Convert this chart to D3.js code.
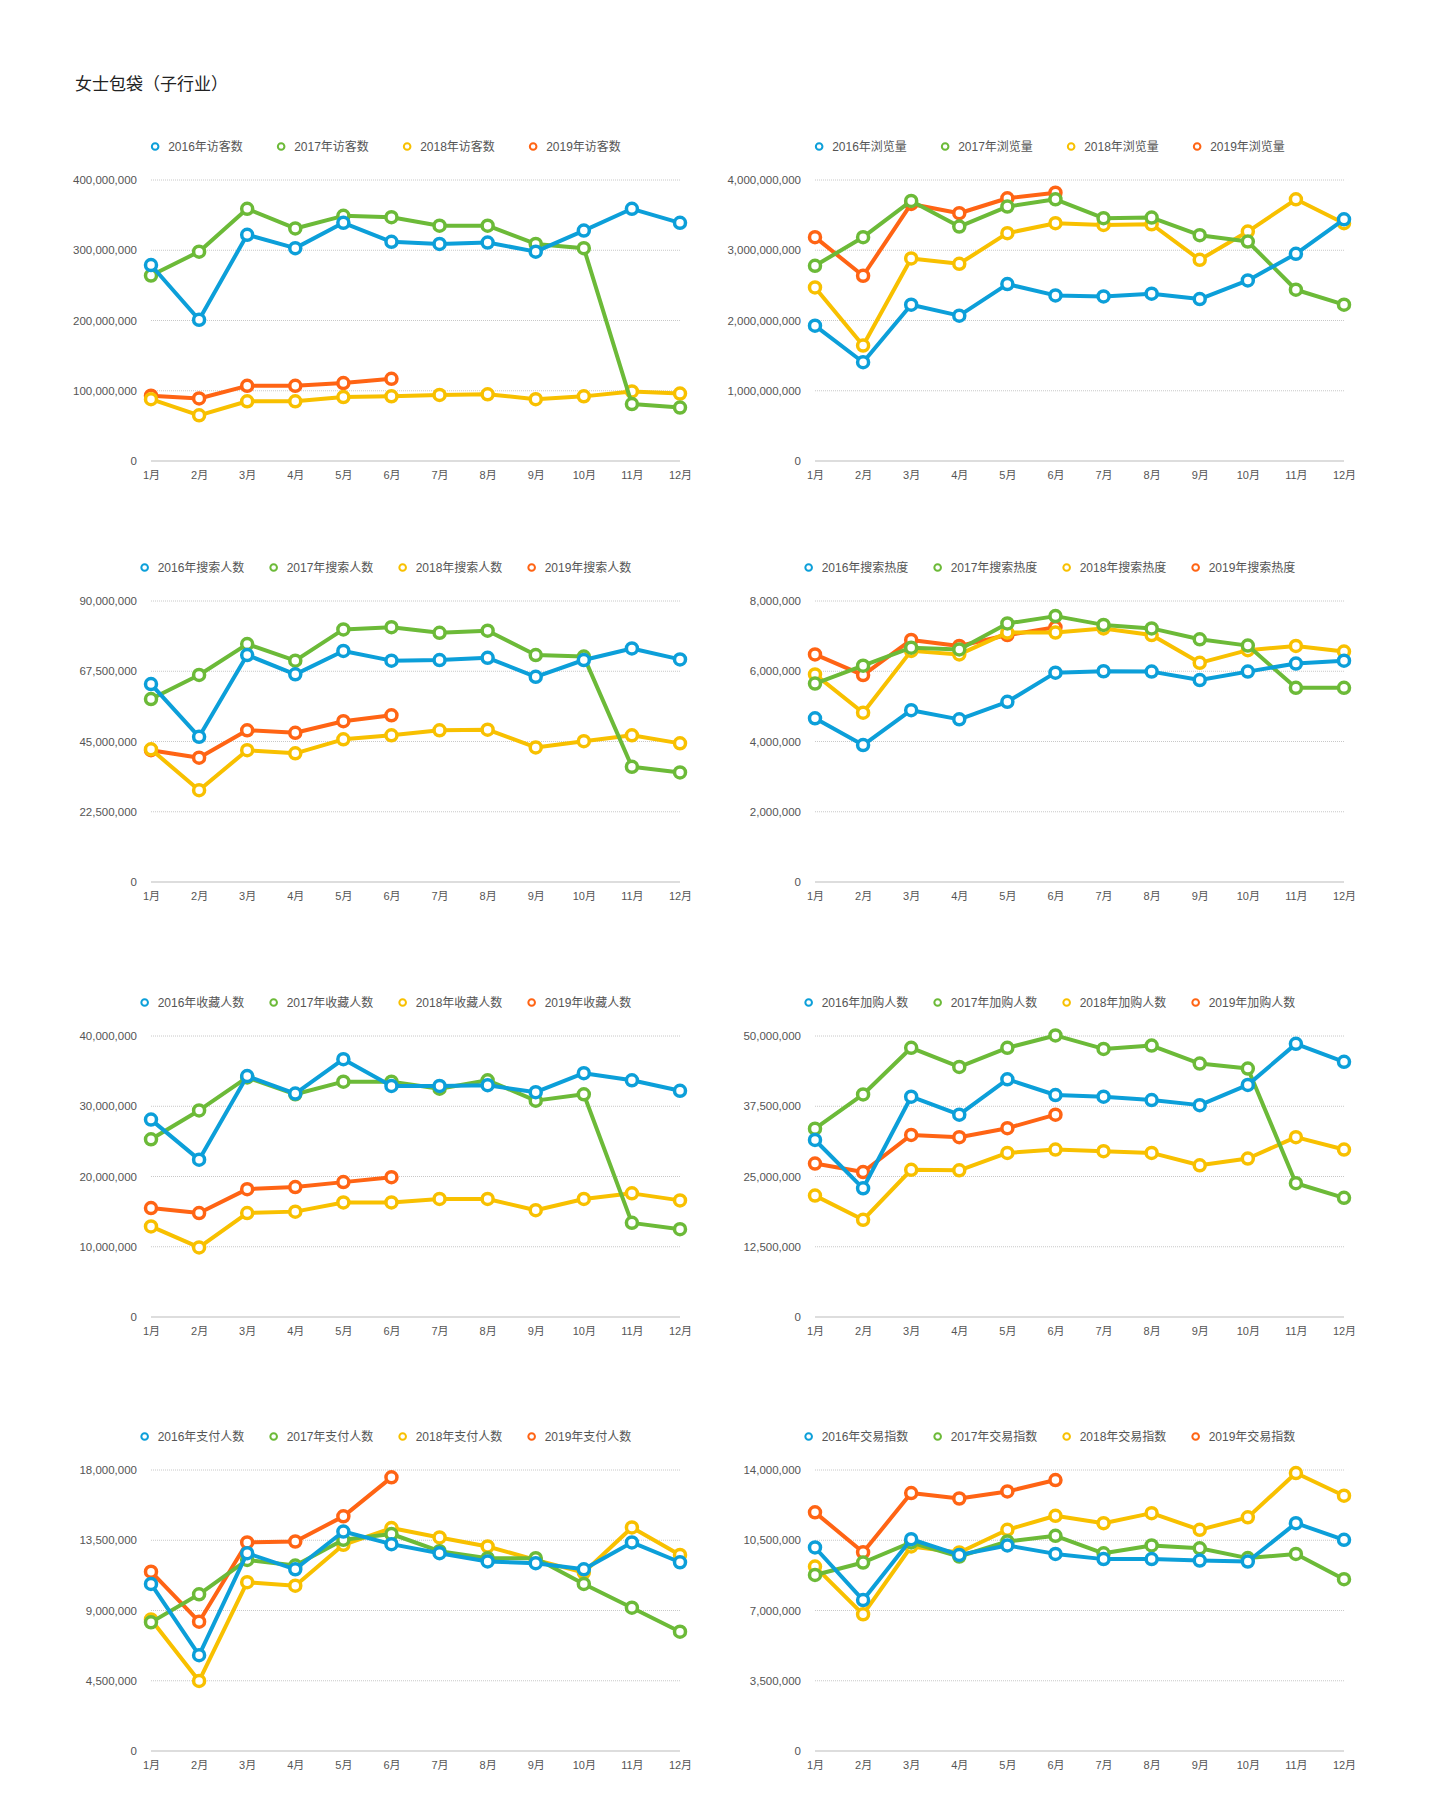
<!DOCTYPE html>
<html>
<head>
<meta charset="utf-8">
<script src="https://cdn.jsdelivr.net/npm/d3@7"></script>
<style>
  body { margin: 0; background: #fff; }
  text { font-family: "Liberation Sans", "Noto Sans CJK SC", sans-serif; }
</style>
</head>
<body>
<script>
var months = ["1月", "2月", "3月", "4月", "5月", "6月", "7月", "8月", "9月", "10月", "11月", "12月"];
var years = ["2016年", "2017年", "2018年", "2019年"];
var metrics = ["访客数", "浏览量", "搜索人数", "搜索热度", "收藏人数", "加购人数", "支付人数", "交易指数"];
var yMax = [400000000, 4000000000, 90000000, 8000000, 40000000, 50000000, 18000000, 14000000];
var colors = ["#0c9fd9", "#6cba38", "#f8c000", "#ff6414"];

// each metric: [2016, 2017, 2018, 2019]
var visitors = [
  [279e6, 201e6, 322e6, 303e6, 339e6, 312e6, 309e6, 311e6, 298e6, 328e6, 359e6, 339e6],
  [264e6, 298e6, 359e6, 331e6, 349e6, 347e6, 335e6, 335e6, 309e6, 303e6, 81e6, 76e6],
  [88e6, 65e6, 85e6, 85e6, 91e6, 92e6, 94e6, 95e6, 88e6, 92e6, 99e6, 96e6],
  [93e6, 89e6, 107e6, 107e6, 111e6, 117e6]
];
var pageViews = [
  [1927e6, 1406e6, 2225e6, 2069e6, 2518e6, 2357e6, 2343e6, 2381e6, 2305e6, 2570e6, 2949e6, 3441e6],
  [2779e6, 3186e6, 3702e6, 3337e6, 3621e6, 3725e6, 3456e6, 3465e6, 3214e6, 3124e6, 2438e6, 2225e6],
  [2471e6, 1643e6, 2883e6, 2807e6, 3243e6, 3385e6, 3361e6, 3370e6, 2864e6, 3266e6, 3725e6, 3385e6],
  [3186e6, 2637e6, 3659e6, 3527e6, 3740e6, 3820e6]
];
var searchers = [
  [63.4e6, 46.5e6, 72.7e6, 66.5e6, 74.0e6, 70.9e6, 71.1e6, 71.8e6, 65.7e6, 71.1e6, 74.8e6, 71.3e6],
  [58.6e6, 66.3e6, 76.2e6, 70.9e6, 80.9e6, 81.6e6, 79.8e6, 80.5e6, 72.7e6, 72.2e6, 36.9e6, 35.1e6],
  [42.5e6, 29.4e6, 42.2e6, 41.2e6, 45.7e6, 47.0e6, 48.6e6, 48.8e6, 43.1e6, 45.1e6, 47.0e6, 44.4e6],
  [42.2e6, 39.8e6, 48.6e6, 47.8e6, 51.5e6, 53.4e6]
];
var searchHeat = [
  [4.66e6, 3.90e6, 4.89e6, 4.63e6, 5.13e6, 5.96e6, 6.00e6, 5.99e6, 5.75e6, 5.99e6, 6.22e6, 6.30e6],
  [5.65e6, 6.16e6, 6.67e6, 6.62e6, 7.36e6, 7.57e6, 7.32e6, 7.22e6, 6.91e6, 6.73e6, 5.53e6, 5.53e6],
  [5.91e6, 4.82e6, 6.58e6, 6.48e6, 7.10e6, 7.10e6, 7.22e6, 7.03e6, 6.24e6, 6.60e6, 6.72e6, 6.56e6],
  [6.48e6, 5.89e6, 6.89e6, 6.72e6, 7.03e6, 7.25e6]
];
var favorites = [
  [28.1e6, 22.4e6, 34.3e6, 31.8e6, 36.7e6, 32.9e6, 32.9e6, 33.0e6, 32.0e6, 34.7e6, 33.7e6, 32.2e6],
  [25.3e6, 29.4e6, 34.1e6, 31.7e6, 33.5e6, 33.5e6, 32.5e6, 33.7e6, 30.8e6, 31.7e6, 13.4e6, 12.5e6],
  [12.9e6, 9.9e6, 14.8e6, 15.0e6, 16.3e6, 16.3e6, 16.8e6, 16.8e6, 15.2e6, 16.8e6, 17.6e6, 16.6e6],
  [15.5e6, 14.8e6, 18.2e6, 18.5e6, 19.2e6, 19.9e6]
];
var addToCart = [
  [31.5e6, 22.9e6, 39.2e6, 36.0e6, 42.3e6, 39.5e6, 39.2e6, 38.6e6, 37.7e6, 41.3e6, 48.6e6, 45.4e6],
  [33.5e6, 39.6e6, 47.9e6, 44.5e6, 47.9e6, 50.1e6, 47.7e6, 48.3e6, 45.1e6, 44.2e6, 23.8e6, 21.2e6],
  [21.6e6, 17.3e6, 26.2e6, 26.1e6, 29.2e6, 29.8e6, 29.5e6, 29.2e6, 27.0e6, 28.2e6, 32.0e6, 29.8e6],
  [27.3e6, 25.8e6, 32.4e6, 32.0e6, 33.6e6, 36.0e6]
];
var payers = [
  [10.70e6, 6.14e6, 12.67e6, 11.64e6, 14.06e6, 13.25e6, 12.67e6, 12.14e6, 12.03e6, 11.64e6, 13.36e6, 12.09e6],
  [8.24e6, 10.04e6, 12.24e6, 11.88e6, 13.53e6, 13.90e6, 12.80e6, 12.35e6, 12.35e6, 10.70e6, 9.18e6, 7.64e6],
  [8.43e6, 4.49e6, 10.81e6, 10.59e6, 13.21e6, 14.28e6, 13.68e6, 13.10e6, 12.24e6, 11.43e6, 14.32e6, 12.56e6],
  [11.49e6, 8.28e6, 13.36e6, 13.42e6, 15.03e6, 17.53e6]
];
var tradeIndex = [
  [10.14e6, 7.52e6, 10.55e6, 9.77e6, 10.24e6, 9.82e6, 9.56e6, 9.56e6, 9.49e6, 9.44e6, 11.35e6, 10.52e6],
  [8.77e6, 9.39e6, 10.39e6, 9.69e6, 10.44e6, 10.72e6, 9.85e6, 10.24e6, 10.10e6, 9.61e6, 9.82e6, 8.56e6],
  [9.19e6, 6.81e6, 10.19e6, 9.89e6, 11.02e6, 11.72e6, 11.35e6, 11.85e6, 11.02e6, 11.64e6, 13.85e6, 12.72e6],
  [11.89e6, 9.90e6, 12.85e6, 12.58e6, 12.93e6, 13.50e6]
];
var allData = [visitors, pageViews, searchers, searchHeat, favorites, addToCart, payers, tradeIndex];

var svg = d3.select("body").append("svg")
            .attr("width", 1440)
            .attr("height", 1815);

svg.append("text")
   .attr("x", 75)
   .attr("y", 90)
   .attr("font-size", 17)
   .attr("fill", "#222")
   .text("女士包袋（子行业）");

var rowTops = [180, 601, 1036, 1470];
var plotW = 529, plotH = 281;
var fmt = d3.format(",");

allData.forEach(function (series, i) {
  var col = i % 2, row = Math.floor(i / 2);
  var left = 151 + col * 664, top = rowTops[row];

  var x = d3.scalePoint().domain(months).range([0, plotW]);
  var y = d3.scaleLinear().domain([0, yMax[i]]).range([plotH, 0]);

  var g = svg.append("g").attr("transform", "translate(" + left + "," + top + ")");

  // grid
  var ticks = d3.range(5).map(function (k) { return yMax[i] * k / 4; });
  g.selectAll(".grid")
   .data(ticks.slice(1))
   .enter().append("line")
   .attr("x1", 0).attr("x2", plotW)
   .attr("y1", function (d) { return y(d); })
   .attr("y2", function (d) { return y(d); })
   .attr("stroke", "#c8c8c8")
   .attr("stroke-width", 1)
   .attr("stroke-dasharray", "1,1");

  g.append("line")
   .attr("x1", 0).attr("x2", plotW)
   .attr("y1", plotH).attr("y2", plotH)
   .attr("stroke", "#d2d2d2")
   .attr("stroke-width", 1.5);

  var yAxis = g.append("g")
               .call(d3.axisLeft(y).tickValues(ticks).tickFormat(fmt).tickSize(0).tickPadding(14));
  yAxis.select(".domain").remove();
  yAxis.selectAll("text").attr("font-size", 11.5).attr("fill", "#555")
       .style("font-family", "Liberation Sans, Noto Sans CJK SC, sans-serif");

  var xAxis = g.append("g")
               .attr("transform", "translate(0," + plotH + ")")
               .call(d3.axisBottom(x).tickSize(0).tickPadding(10));
  xAxis.select(".domain").remove();
  xAxis.selectAll("text").attr("font-size", 11).attr("fill", "#555")
       .style("font-family", "Liberation Sans, Noto Sans CJK SC, sans-serif");

  var line = d3.line()
               .x(function (d, k) { return x(months[k]); })
               .y(function (d) { return y(d); });

  // 2019 drawn first, 2016 on top
  for (var s = 3; s >= 0; s--) {
    g.append("path")
     .datum(series[s])
     .attr("d", line)
     .attr("fill", "none")
     .attr("stroke", colors[s])
     .attr("stroke-width", 4)
     .attr("stroke-linejoin", "round");
    g.selectAll(".pt" + s)
     .data(series[s])
     .enter().append("circle")
     .attr("cx", function (d, k) { return x(months[k]); })
     .attr("cy", function (d) { return y(d); })
     .attr("r", 5.5)
     .attr("fill", "#fff")
     .attr("stroke", colors[s])
     .attr("stroke-width", 3.5);
  }

  // legend
  var labels = years.map(function (yr) { return yr + metrics[i]; });
  var step = labels[0].length > 8 ? 129 : 126;
  var leg = svg.append("g").attr("transform", "translate(0," + (top - 33.5) + ")");
  var items = leg.selectAll("g")
                 .data(labels)
                 .enter().append("g");
  items.append("circle")
       .attr("r", 3.3)
       .attr("fill", "#fff")
       .attr("stroke", function (d, k) { return colors[k]; })
       .attr("stroke-width", 2);
  items.append("text")
       .attr("x", 13)
       .attr("dy", "0.36em")
       .attr("font-size", 12)
       .attr("fill", "#555")
       .text(function (d) { return d; });
  var tw = items.select("text").node().getComputedTextLength();
  var start = 388 + col * 664 - (3 * step + 13 + tw) / 2;
  items.attr("transform", function (d, k) { return "translate(" + (start + k * step) + ",0)"; });
});
</script>
</body>
</html>
